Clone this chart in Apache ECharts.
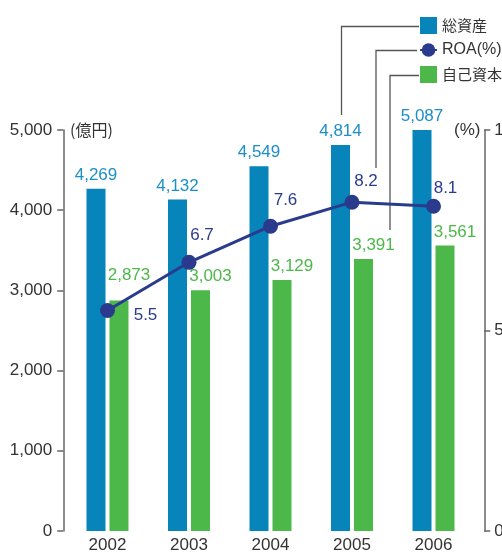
<!DOCTYPE html>
<html>
<head>
<meta charset="utf-8">
<script src="https://cdn.jsdelivr.net/npm/echarts@6/dist/echarts.min.js"></script>
<style>
html,body{margin:0;padding:0;background:#fff;}
#chart{width:502px;height:559px;}
</style>
</head>
<body>
<div id="chart"></div>
<script>
const categories = ['2002', '2003', '2004', '2005', '2006'];
const totalAssets = [4269, 4132, 4549, 4814, 5087];
const equity = [2873, 3003, 3129, 3391, 3561];
const roa = [5.5, 6.7, 7.6, 8.2, 8.1];
const leftTicks = { min: 0, max: 5000, interval: 1000 };
const rightTicks = { min: 0, max: 10, interval: 5 };

const NUM_FONT = "'Liberation Sans', 'Noto Sans CJK JP', sans-serif";
const JP_FONT = "'Noto Sans CJK JP', 'Liberation Sans', sans-serif";
const NUM_SIZE = 17;
const BLUE = '#0784b9';
const GREEN = '#4cb84a';
const NAVY = '#2a3b8d';
const roaLabelOffsets = [[38, 5], [13, -27], [15, -26], [14, -21], [12, -18]];
const equityLabelOffsets = [[10, -12], [10, 0], [10, 0], [10, 0], [10, 0]];
const fmt = v => Number(v).toLocaleString('en-US');

const chart = echarts.init(document.getElementById('chart'), null, { renderer: 'canvas' });
chart.setOption({
  animation: false,
  textStyle: { fontFamily: NUM_FONT },
  grid: { left: 66.75, right: 27.75, top: 130, bottom: 28, containLabel: false, outerBoundsMode: 'none' },
  legend: {
    orient: 'vertical',
    left: 414,
    top: 12,
    itemWidth: 17,
    itemHeight: 17,
    itemGap: 8,
    textStyle: { fontFamily: JP_FONT, fontSize: 15, color: '#333' },
    data: [
      { name: '総資産', icon: 'rect' },
      { name: 'ROA(%)', textStyle: { fontFamily: NUM_FONT, fontSize: 16 } },
      { name: '自己資本', icon: 'rect' }
    ]
  },
  xAxis: {
    type: 'category',
    data: categories,
    axisLine: { show: false },
    axisTick: { show: false },
    axisLabel: { color: '#333', fontSize: NUM_SIZE, margin: 6, fontFamily: NUM_FONT }
  },
  yAxis: [
    {
      type: 'value',
      min: leftTicks.min, max: leftTicks.max, interval: leftTicks.interval,
      position: 'left',
      offset: 3.5,
      splitLine: { show: false },
      axisLine: { show: true, lineStyle: { color: '#666', width: 1.5 } },
      axisTick: { show: true, length: 6, lineStyle: { color: '#666', width: 1.5 } },
      axisLabel: { color: '#333', fontSize: NUM_SIZE, margin: 11, formatter: v => fmt(v), fontFamily: NUM_FONT }
    },
    {
      type: 'value',
      min: rightTicks.min, max: rightTicks.max, interval: rightTicks.interval,
      position: 'right',
      offset: 10,
      splitLine: { show: false },
      axisLine: { show: true, lineStyle: { color: '#666', width: 1.5 } },
      axisTick: { show: true, length: 6, lineStyle: { color: '#666', width: 1.5 } },
      axisLabel: { color: '#333', fontSize: NUM_SIZE, margin: 10, fontFamily: NUM_FONT }
    }
  ],
  series: [
    {
      name: '総資産',
      type: 'bar',
      data: totalAssets,
      barWidth: 19,
      barGap: '21%',
      itemStyle: { color: BLUE },
      label: {
        show: true, position: 'top', distance: 5,
        color: '#1b8fc9', fontSize: NUM_SIZE, fontFamily: NUM_FONT,
        formatter: p => fmt(p.value)
      },
      z: 2
    },
    {
      name: '自己資本',
      type: 'bar',
      data: equity.map((v, i) => ({ value: v, label: { offset: equityLabelOffsets[i] } })),
      barWidth: 19,
      itemStyle: { color: GREEN },
      label: {
        show: true, position: 'top', distance: 5,
        color: GREEN, fontSize: NUM_SIZE, fontFamily: NUM_FONT,
        formatter: p => fmt(p.value)
      },
      z: 2
    },
    {
      name: 'ROA(%)',
      type: 'line',
      yAxisIndex: 1,
      data: roa.map((v, i) => ({ value: v, label: { offset: roaLabelOffsets[i] } })),
      symbol: 'circle',
      symbolSize: 15,
      lineStyle: { color: NAVY, width: 3 },
      itemStyle: { color: NAVY },
      label: {
        show: true, position: 'inside',
        color: NAVY, fontSize: NUM_SIZE, fontFamily: NUM_FONT,
        formatter: p => p.value.toFixed(1)
      },
      z: 5
    }
  ],
  graphic: [
    { type: 'text', left: 70, top: 122, style: { text: '(億円)', fontFamily: JP_FONT, fontSize: 16, fill: '#333' } },
    { type: 'text', left: 454, top: 122, style: { text: '(%)', fontFamily: NUM_FONT, fontSize: 17, fill: '#333' } },
    { type: 'polyline', shape: { points: [[419, 26.5], [341.5, 26.5], [341.5, 115]] }, style: { stroke: '#555', lineWidth: 1.3, fill: null } },
    { type: 'polyline', shape: { points: [[417, 50.5], [376, 50.5], [376, 168]] }, style: { stroke: '#555', lineWidth: 1.3, fill: null } },
    { type: 'polyline', shape: { points: [[419, 75.5], [390, 75.5], [390, 230]] }, style: { stroke: '#555', lineWidth: 1.3, fill: null } }
  ]
});
</script>
</body>
</html>
